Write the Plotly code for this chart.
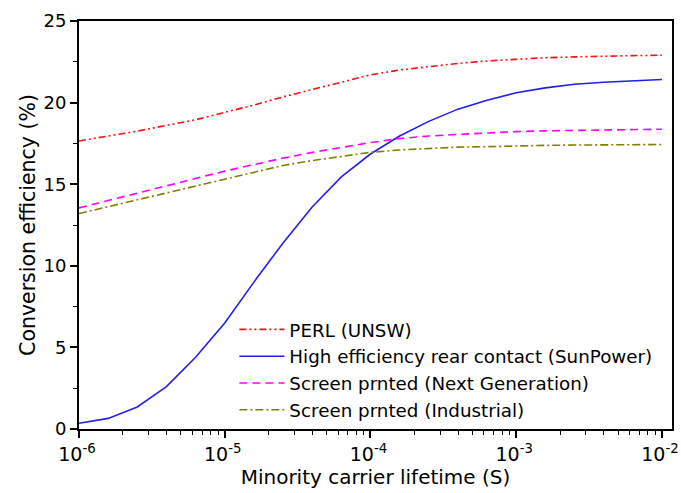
import numpy as np
import plotly.graph_objects as go

# Minority carrier lifetime grid (log10 of seconds)
log_tau = [-6.0, -5.8, -5.6, -5.4, -5.2, -5.0, -4.8, -4.6, -4.4, -4.2, -4.0,
           -3.8, -3.6, -3.4, -3.2, -3.0, -2.8, -2.6, -2.4, -2.2, -2.0]

# Conversion efficiency (%) for each cell technology
perl_unsw = [17.65, 17.95, 18.25, 18.6, 18.95, 19.4, 19.85, 20.35, 20.8, 21.25, 21.7,
             22.0, 22.2, 22.4, 22.55, 22.65, 22.75, 22.8, 22.85, 22.88, 22.9]
sunpower = [0.35, 0.65, 1.35, 2.6, 4.4, 6.5, 9.0, 11.4, 13.6, 15.45, 16.85,
            17.95, 18.85, 19.6, 20.15, 20.6, 20.9, 21.12, 21.25, 21.35, 21.42]
next_gen = [13.55, 14.0, 14.45, 14.9, 15.35, 15.8, 16.2, 16.6, 16.95, 17.25, 17.55,
            17.8, 17.95, 18.05, 18.15, 18.22, 18.27, 18.3, 18.33, 18.35, 18.37]
industrial = [13.2, 13.62, 14.05, 14.47, 14.9, 15.33, 15.75, 16.15, 16.45, 16.72, 16.95,
              17.1, 17.2, 17.27, 17.3, 17.35, 17.38, 17.4, 17.42, 17.43, 17.43]

# Decade tick labels on the lifetime axis
x_tick_exponents = [-6, -5, -4, -3, -2]
x_tick_labels = ["10<sup>-6</sup>", "10<sup>-5</sup>", "10<sup>-4</sup>",
                 "10<sup>-3</sup>", "10<sup>-2</sup>"]

tau = [10 ** v for v in log_tau]

series = [
    ("PERL (UNSW)", perl_unsw, "#ff1010", "7px,3px,2px,3px,2px,3px"),
    ("High efficiency rear contact (SunPower)", sunpower, "#2020ee", "solid"),
    ("Screen prnted (Next Generation)", next_gen, "#ff00ff", "8px,5px"),
    ("Screen prnted (Industrial)", industrial, "#808000", "8px,3px,2px,3px"),
]

FONT = "DejaVu Sans"

fig = go.Figure()
for name, vals, color, dash in series:
    fig.add_trace(go.Scatter(
        x=tau, y=vals, name=name, mode="lines",
        line=dict(color=color, width=1.6, dash=dash),
    ))

fig.update_layout(
    width=681, height=493,
    margin=dict(l=79, r=9, t=21, b=64),
    paper_bgcolor="white", plot_bgcolor="white",
    font=dict(family=FONT, size=18, color="black"),
    showlegend=True,
    legend=dict(
        x=0.262, y=0.0, xanchor="left", yanchor="bottom",
        bgcolor="rgba(0,0,0,0)", borderwidth=0,
        font=dict(family=FONT, size=18.3, color="black"),
        tracegroupgap=0, itemwidth=45,
    ),
)

fig.update_xaxes(
    type="log", range=[-6, -1.931],
    tickvals=[10 ** e for e in x_tick_exponents], ticktext=x_tick_labels,
    ticklabeloverflow="allow", automargin=False, ticklabelshift=-2,
    showgrid=False, zeroline=False,
    showline=True, linecolor="black", linewidth=1.8, mirror=True,
    ticks="outside", ticklen=7, tickwidth=1.5, tickcolor="black",
    minor=dict(dtick="D1", ticks="outside", ticklen=4, tickwidth=1.2, tickcolor="black"),
    tickfont=dict(family=FONT, size=19),
    title=dict(text="Minority carrier lifetime (S)", font=dict(family=FONT, size=20), standoff=4),
)
fig.update_yaxes(
    range=[0, 25], dtick=5, automargin=False,
    showgrid=False, zeroline=False,
    showline=True, linecolor="black", linewidth=1.8, mirror=True,
    ticks="outside", ticklen=7, tickwidth=1.5, tickcolor="black",
    minor=dict(dtick=2.5, ticks="outside", ticklen=4, tickwidth=1.2, tickcolor="black"),
    tickfont=dict(family=FONT, size=18),
    title=dict(text="Conversion efficiency (%)", font=dict(family=FONT, size=20.5), standoff=2),
)

fig.write_html("out.html")
